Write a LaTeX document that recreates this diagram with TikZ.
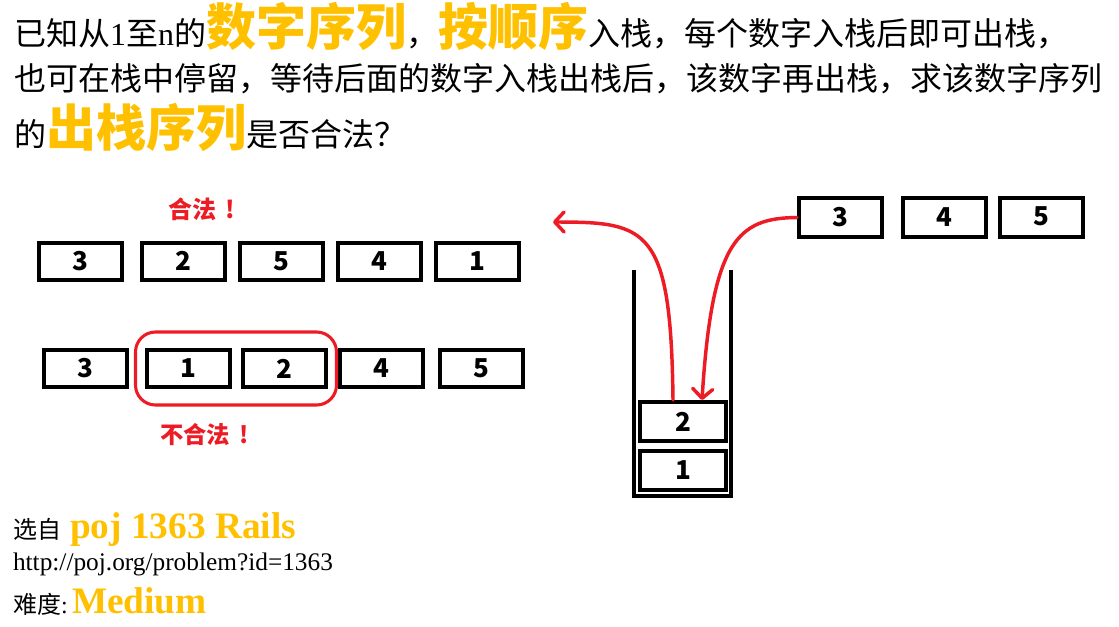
\documentclass[tikz,border=0pt]{standalone}
\usepackage{fontspec}
\setmainfont{Liberation Serif}
\newfontfamily\cjk{Noto Sans CJK SC}
\usetikzlibrary{arrows.meta,fit}
\definecolor{gold}{RGB}{255,192,0}
\definecolor{redc}{RGB}{237,28,36}
\newcommand\fsz[1]{\fontsize{#1}{#1}\selectfont}
\begin{document}
\begin{tikzpicture}[x=0.75pt,y=-0.75pt,
  txt/.style={inner sep=0pt, outer sep=0pt, anchor=base west},
  blk/.style={txt, font={\cjk\fsz{24pt}}},
  big/.style={txt, text=gold, font={\cjk\bfseries\fsz{37.5pt}}},
  numbox/.style={draw=black, line width=3pt, fill=white, inner sep=0pt, line join=miter,
    font={\cjk\bfseries\fsz{19.5pt}}},
  rowbox/.style={numbox, minimum width=62.25pt, minimum height=27.75pt},
  tallbox/.style={numbox, minimum width=62.25pt, minimum height=29.25pt},
  stackbox/.style={numbox, minimum width=64.5pt, minimum height=29.25pt},
  redlbl/.style={inner sep=0pt, anchor=west, text=redc, font={\cjk\bfseries\fsz{18pt}}},
  redarr/.style={draw=redc, line width=2.6pt, line cap=round,
    -{Straight Barb[length=7pt,width=15pt,round]}},
  wall/.style={draw=black, line width=3pt, line join=miter}]
\useasboundingbox (0,0) rectangle (1119,626);

% title text
\node[blk] (l1a) at (14,45) {已知从{\rmfamily 1}至{\rmfamily n}的};
\node[big] (l1b) at (l1a.base east) {数字序列};
\node[blk] (l1c) at (l1b.base east) {，};
\node[big] (l1d) at (l1c.base east) {按顺序};
\node[blk] (l1e) at (l1d.base east) {入栈，每个数字入栈后即可出栈，};
\node[blk] (l2) at (14,90) {也可在栈中停留，等待后面的数字入栈出栈后，该数字再出栈，求该数字序列};
\node[blk] (l3a) at (14,146) {的};
\node[big] (l3b) at (l3a.base east) {出栈序列};
\node[blk] (l3c) at (l3b.base east) {是否合法？};

% legal sequence
\node[redlbl] (ok) at (168,209.5) {合法\kern0.4em!};
\node[rowbox] (a1) at (80.5,261) {\raisebox{-1.5pt}{3}};
\node[rowbox] (a2) at (183.5,261) {2};
\node[rowbox] (a3) at (281.5,261) {5};
\node[rowbox] (a4) at (379,261) {4};
\node[rowbox] (a5) at (477.5,261) {1};

% illegal sequence
\node[rowbox] (b1) at (85,368.5) {3};
\node[rowbox] (b2) at (188,368.5) {1};
\node[rowbox] (b3) at (284,368.5) {2};
\node[rowbox] (b4) at (381.5,368.5) {4};
\node[rowbox] (b5) at (481.5,368.5) {5};
\node[draw=redc, line width=2.3pt, rounded corners=15pt, fit=(b2)(b3),
  inner xsep=6.75pt, inner ysep=12pt] (bad) {};
\node[redlbl, font={\cjk\bfseries\fsz{17.5pt}}] (nok) at (160,435) {不合法\kern0.4em!};

% input queue
\node[tallbox] (r3) at (840.5,217.5) {3};
\node[tallbox] (r4) at (944,217.5) {4};
\node[tallbox] (r5) at (1041,217.5) {\raisebox{2.5pt}{5}};

% stack
\coordinate (wTL) at (633.5,270);
\coordinate (wBL) at (633.5,496);
\coordinate (wBR) at (731,496);
\coordinate (wTR) at (731,270);
\draw[wall] (wTL) -- (wBL) -- (wBR) -- (wTR);
\node[stackbox] (k2) at (683,421.5) {2};
\node[stackbox] (k1) at (683,470) {1};

% arrows
\coordinate (outEnd) at (553,222);
\draw[redarr] ([xshift=-7.5pt]k2.north) .. controls (671,228) and (648,222) .. (outEnd);
\draw[redarr] (r3.west) .. controls (738,218) and (712,240) .. ([xshift=14.25pt]k2.north);

% source
\node[txt, font={\cjk\fsz{18pt}}] (s1) at (13,538) {选自};
\node[txt, text=gold, font={\bfseries\fsz{28pt}}] (s2) at (70,538) {poj 1363 Rails};
\node[txt, font={\fsz{19pt}}] (url) at (13,570) {http://poj.org/problem?id=1363};
\node[txt, font={\cjk\fsz{18pt}}] (d1) at (13,613) {难度{\rmfamily :}};
\node[txt, text=gold, font={\bfseries\fsz{28pt}}] (d2) at (72,613) {Medium};
\end{tikzpicture}
\end{document}
